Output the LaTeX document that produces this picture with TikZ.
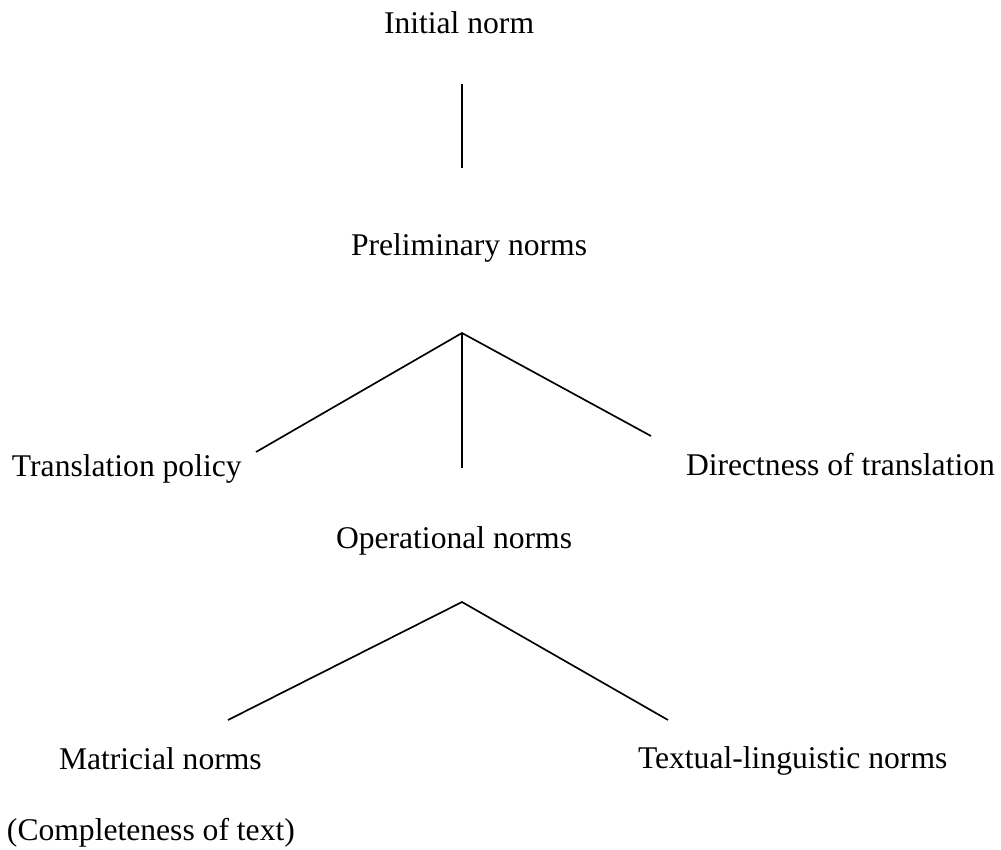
\documentclass[tikz,border=0pt]{standalone}
\usepackage{fontspec}
\setmainfont{Liberation Serif}
\begin{document}
\begin{tikzpicture}[x=0.75pt,y=-0.75pt,
  lbl/.style={anchor=base west,inner sep=0pt,outer sep=0pt,font=\fontsize{23.7}{28}\selectfont},
  link/.style={line width=1.25pt,black}]
\useasboundingbox (0,0) rectangle (1001,850);
% labels
\node[lbl] (init) at (384,33) {Initial norm};
\node[lbl] (prelim) at (351,255) {Preliminary norms};
\node[lbl] (policy) at (12,476) {Translation policy};
\node[lbl] (direct) at (686,475) {Directness of translation};
\node[lbl] (oper) at (336,548) {Operational norms};
\node[lbl] (matr) at (59,769) {Matricial norms};
\node[lbl] (textl) at (638,768) {Textual-linguistic norms};
\node[lbl] (compl) at (7,840) {(Completeness of text)};
% line end points
\coordinate (a1) at (462,84);
\coordinate (a2) at (462,168);
\coordinate (p) at (462,333);
\coordinate (pl) at (256,452);
\coordinate (pc) at (462,468);
\coordinate (pr) at (651,436);
\coordinate (o) at (462,602);
\coordinate (ol) at (228,720);
\coordinate (or) at (668,720);
% connectors
\draw[link] (a1) -- (a2);
\draw[link] (pl) -- (p) -- (pr);
\draw[link] (p) -- (pc);
\draw[link] (ol) -- (o) -- (or);
\end{tikzpicture}
\end{document}
